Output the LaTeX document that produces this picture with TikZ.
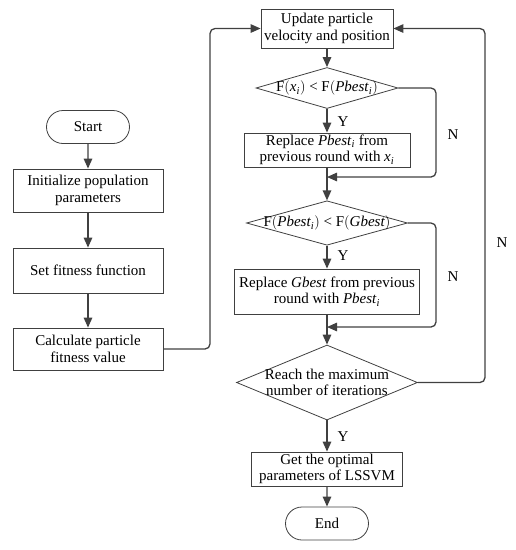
\documentclass[tikz,border=0pt]{standalone}
\usepackage{fontspec}
\setmainfont{Liberation Serif}
\usetikzlibrary{shapes.geometric,shapes.misc,arrows.meta}
\definecolor{linegray}{RGB}{64,64,64}
\tikzset{
	box/.style={draw=linegray,line width=0.8pt,align=center,inner sep=0pt,font=\fontsize{15}{16.5}\selectfont},
	term/.style={box,rounded rectangle,minimum width=83pt,minimum height=33pt},
	decision/.style={box,diamond,shape aspect=3.4,inner ysep=-4pt},
	flow/.style={draw=linegray,line width=1.3pt,rounded corners=5pt,-{Triangle[length=10pt,width=8.5pt]}},
	lbl/.style={font=\fontsize{15}{16.5}\selectfont}
}
\newcommand{\sub}[1]{\textsubscript{\textit{#1}}}

\begin{document}
\begin{tikzpicture}[x=1pt,y=-1pt]
	\useasboundingbox (0,0) rectangle (516,550);
	% left column
	\node[term] (start) at (88,127) {Start};
	\node[box,minimum width=150pt,minimum height=43pt] (init) at (88,190.5) {Initialize population\\parameters};
	\node[box,minimum width=150pt,minimum height=45pt] (fitfun) at (88,270.5) {Set fitness function};
	\node[box,minimum width=150pt,minimum height=42pt] (calc) at (88,349) {Calculate particle\\fitness value};
	% right column
	\node[box,minimum width=132pt,minimum height=39pt] (update) at (327,28.5) {Update particle\\velocity and position};
	\node[decision,minimum width=142pt,minimum height=41pt] (cmp1) at (327,88) {F$\Big($\textit{x}\sub{i}$\Big)$ < F$\Big($\textit{Pbest}\sub{i}$\Big)$};
	\node[box,minimum width=166pt,minimum height=34pt] (repl1) at (327,150) {Replace \textit{Pbest}\sub{i} from\\previous round with \textit{x}\sub{i}};
	\node[decision,minimum width=161pt,minimum height=40pt] (cmp2) at (327,223) {F$\Big($\textit{Pbest}\sub{i}$\Big)$ < F$\Big($\textit{Gbest}$\Big)$};
	\node[box,minimum width=185pt,minimum height=45pt] (repl2) at (327,291.5) {Replace \textit{Gbest} from previous\\round with \textit{Pbest}\sub{i}};
	\node[decision,shape aspect=2.4,inner ysep=-7pt,minimum width=181pt,minimum height=75pt] (maxit) at (327,382.5) {Reach the maximum\\number of iterations};
	\node[box,minimum width=151pt,minimum height=34pt] (result) at (327,469) {Get the optimal\\parameters of LSSVM};
	\node[term] (stop) at (327,523.5) {End};
	% helper points
	\coordinate (join1) at (327,177);
	\coordinate (join2) at (327,327);
	\coordinate (inner) at (436,0);
	\coordinate (outer) at (485,0);
	\coordinate (back) at (210,0);
	% edges
	\draw[flow] (start) -- (init);
	\draw[flow] (init) -- (fitfun);
	\draw[flow] (fitfun) -- (calc);
	\draw[flow] (calc.east) -- (calc.east -| back) |- (update.west);
	\draw[flow] (update) -- (cmp1);
	\draw[flow] (cmp1) -- (repl1);
	\draw[flow] (repl1) -- (cmp2);
	\draw[flow] (cmp1.east) -- (cmp1.east -| inner) |- (join1);
	\draw[flow] (cmp2) -- (repl2);
	\draw[flow] (repl2) -- (maxit);
	\draw[flow] (cmp2.east) -- (cmp2.east -| inner) |- (join2);
	\draw[flow] (maxit.east) -- (maxit.east -| outer) |- (update.east);
	\draw[flow] (maxit) -- (result);
	\draw[flow] (result) -- (stop);
	% labels
	\node[lbl] (y1) at (343,122) {Y};
	\node[lbl] (n1) at (453,135) {N};
	\node[lbl] (y2) at (343,256) {Y};
	\node[lbl] (n2) at (453,277) {N};
	\node[lbl] (n3) at (502,243) {N};
	\node[lbl] (y3) at (343,437) {Y};
\end{tikzpicture}
\end{document}
